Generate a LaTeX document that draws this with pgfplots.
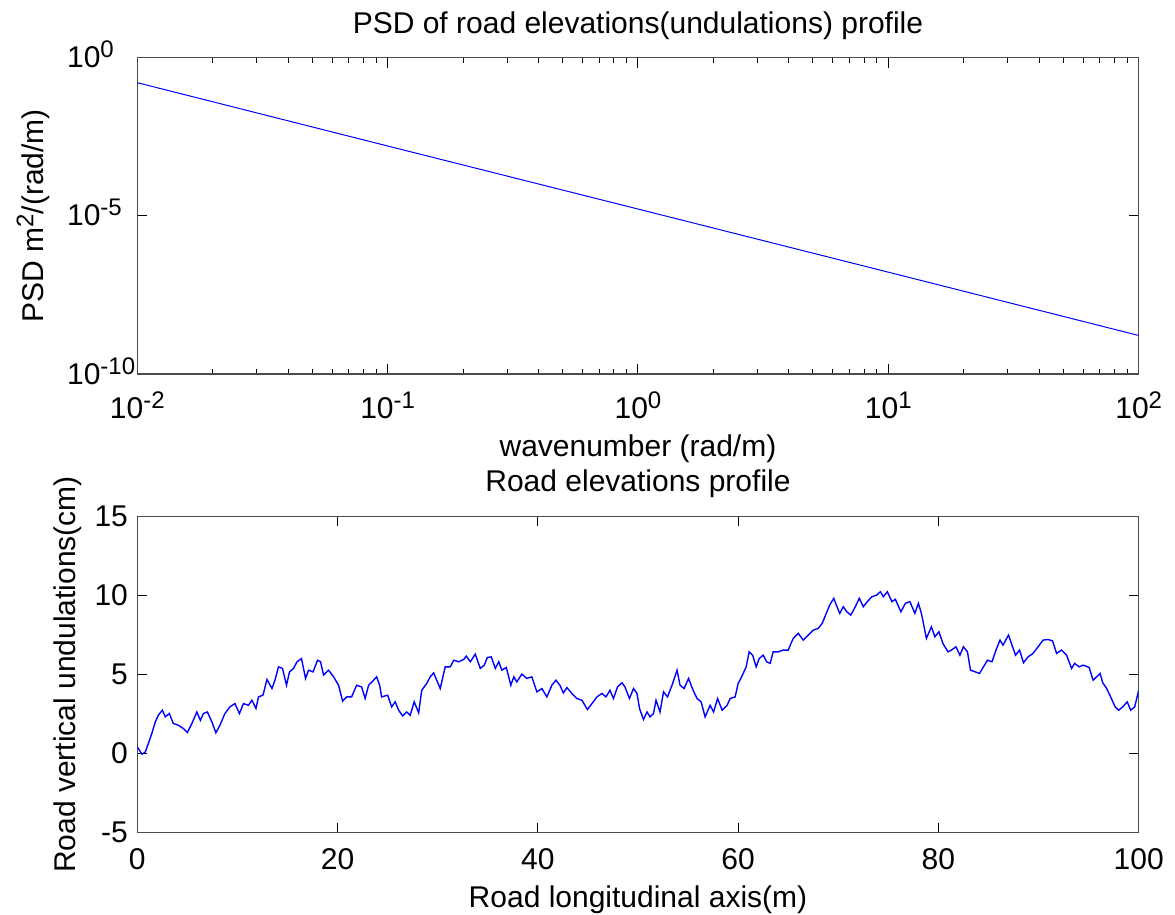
\documentclass[border=0pt]{standalone}
\usepackage{fontspec}
\setmainfont{Liberation Sans}
\usepackage{pgfplots}
\pgfplotsset{compat=1.18}
\newcommand{\tp}[1]{10\raisebox{5pt}{\fontsize{12}{12}\selectfont #1}}
\definecolor{axgray}{gray}{0.3}
\begin{document}
\fontsize{15}{18}\selectfont
\begin{tikzpicture}
\useasboundingbox (-68.65pt,-270.5pt) rectangle (518.85pt,187pt);
\pgfplotsset{
  every axis title shift=0pt,
  every axis/.append style={
    scale only axis, width=500.7pt, height=158.25pt,
    axis line style={axgray, line width=0.6pt},
    every tick/.style={black, line width=0.5pt},
    major tick length=5pt, minor tick length=2.5pt,
    tick align=inside, tick pos=both,
    font=\fontsize{15}{18}\selectfont,
  },
}
% Top: PSD
\begin{axis}[
  at={(0pt,0pt)}, anchor=south west,
  xmode=log, ymode=log,
  xmin=1e-2, xmax=1e2, ymin=1e-10, ymax=1,
  xtick={1e-2,1e-1,1,1e1,1e2},
  xticklabels={\tp{-2},\tp{-1},\tp{0},\tp{1},\tp{2}},
  ytick={1e-10,1e-5,1},
  yticklabels={\tp{-10},\tp{-5},\tp{0}},
  minor ytick={},
  xticklabel style={anchor=base, inner sep=0pt, yshift=-22.15pt},
  yticklabel style={anchor=base west, inner sep=0pt, xshift=-35.3pt, yshift=-5pt},
  title={PSD of road elevations(undulations) profile},
  title style={at={(axis description cs:0.5,1.0765)}, anchor=base, inner sep=0pt},
  xlabel={wavenumber (rad/m)},
  xlabel style={at={(axis description cs:0.5,-0.2613)}, anchor=base, inner sep=0pt},
  ylabel={PSD m\raisebox{5pt}{\fontsize{12}{12}\selectfont 2}/(rad/m)},
  ylabel style={at={(axis description cs:-0.0939,0.5)}, anchor=base, rotate=0, inner sep=0pt},
]
\addplot[blue, line width=0.5pt] coordinates {
(0.01,0.16) (0.1,1.6e-3) (1,1.63e-5) (10,1.65e-7) (100,1.65e-9)
};
\end{axis}
% Bottom: road profile
\begin{axis}[
  at={(0pt,-229.35pt)}, anchor=south west,
  xmin=0, xmax=100, ymin=-5, ymax=15,
  xtick={0,20,40,60,80,100},
  xticklabels={0,20,40,60,80,100},
  ytick={-5,0,5,10,15},
  yticklabels={-5,0,5,10,15},
  xticklabel style={anchor=base, inner sep=0pt, yshift=-18.3pt},
  yticklabel style={anchor=east, inner sep=0pt, xshift=-4.5pt},
  title={Road elevations profile},
  title style={at={(axis description cs:0.5,1.0774)}, anchor=base, inner sep=0pt},
  xlabel={Road longitudinal axis(m)},
  xlabel style={at={(axis description cs:0.5,-0.2357)}, anchor=base, inner sep=0pt},
  ylabel={Road vertical undulations(cm)},
  ylabel style={at={(axis description cs:-0.0622,0.5)}, anchor=base, rotate=0, inner sep=0pt},
]
\addplot[blue, line width=0.7pt] coordinates {
(0,0.42) (0.47,-0.04) (0.8,0.1) (1.1,0.63) (1.45,1.27) (1.8,2.0) (2.1,2.42) (2.5,2.74) (2.8,2.32) (3.2,2.53)
(3.6,1.9) (4.1,1.79) (4.6,1.58) (5.0,1.33) (5.45,1.9) (5.95,2.63) (6.3,2.1) (6.6,2.53) (7.0,2.63) (7.45,2.0)
(7.85,1.31) (8.25,1.79) (8.75,2.53) (9.25,2.95) (9.75,3.16) (10.2,2.53) (10.6,3.16) (11.1,3.05) (11.45,3.37) (11.85,2.85)
(12.1,3.58) (12.55,3.69) (12.95,4.68) (13.45,4.11) (13.75,4.64) (14.1,5.48) (14.5,5.38) (14.9,4.32) (15.2,5.16) (15.6,5.38)
(15.95,5.8) (16.4,6.0) (16.8,4.75) (17.1,5.27) (17.55,5.16) (18.0,5.9) (18.3,5.8) (18.6,4.96) (19.1,5.27) (19.6,4.85)
(20.1,4.32) (20.5,3.31) (20.9,3.58) (21.4,3.58) (21.9,4.32) (22.4,4.21) (22.75,3.48) (23.1,4.32) (23.6,4.64) (23.9,4.85)
(24.2,4.32) (24.4,3.58) (25.0,3.69) (25.4,2.95) (25.75,3.27) (26.1,2.74) (26.5,2.38) (26.9,2.63) (27.25,2.42) (27.65,3.27)
(28.1,2.57) (28.4,4.0) (28.9,4.43) (29.25,4.85) (29.6,5.1) (29.9,4.64) (30.25,4.11) (30.75,5.48) (31.25,5.48) (31.6,5.9)
(32.1,5.8) (32.6,5.95) (32.85,6.16) (33.25,5.8) (33.75,6.28) (34.25,5.38) (34.65,5.59) (34.95,6.07) (35.35,6.11) (35.75,5.38)
(36.1,5.8) (36.4,5.27) (36.85,5.44) (37.3,4.32) (37.6,4.85) (37.9,4.53) (38.4,5.02) (38.9,4.75) (39.4,4.85) (39.9,3.9)
(40.4,4.11) (40.9,3.58) (41.4,4.32) (41.8,4.64) (42.2,4.32) (42.55,3.83) (42.9,4.17) (43.4,3.8) (43.9,3.48) (44.4,3.37)
(44.95,2.78) (45.4,3.16) (45.9,3.58) (46.4,3.8) (46.8,3.58) (47.2,4.0) (47.55,3.48) (47.95,4.21) (48.4,4.47) (48.7,4.21)
(49.15,3.48) (49.55,4.11) (49.9,3.8) (50.15,2.85) (50.55,2.15) (50.9,2.63) (51.2,2.32) (51.55,2.53) (51.8,3.37) (52.2,2.63)
(52.55,3.9) (52.95,3.58) (53.4,4.32) (53.9,5.27) (54.2,4.32) (54.6,4.11) (55.05,4.75) (55.5,4.0) (55.9,3.48) (56.3,3.27)
(56.7,2.32) (57.2,3.05) (57.55,2.63) (57.95,3.48) (58.4,2.74) (58.9,3.05) (59.2,3.48) (59.7,3.58) (60.0,4.43) (60.35,4.85)
(60.8,5.48) (61.1,6.43) (61.45,6.22) (61.8,5.48) (62.1,6.0) (62.5,6.22) (62.85,5.8) (63.2,5.7) (63.5,6.43) (64.0,6.43)
(64.5,6.54) (65.0,6.54) (65.5,7.28) (66.0,7.6) (66.5,7.17) (67.0,7.49) (67.5,7.8) (68.0,7.91) (68.4,8.23) (68.8,8.86)
(69.15,9.39) (69.55,9.81) (69.8,9.39) (70.15,8.86) (70.5,9.28) (70.85,8.96) (71.25,8.75) (71.7,9.28) (72.1,9.81) (72.5,9.28)
(72.9,9.6) (73.35,9.91) (73.85,10.02) (74.2,10.23) (74.5,9.91) (74.9,10.23) (75.35,9.6) (75.7,9.75) (76.25,8.96) (76.7,9.49)
(77.15,9.6) (77.65,8.86) (78.0,9.49) (78.3,8.86) (78.8,7.28) (79.3,8.01) (79.65,7.38) (80.05,7.7) (80.45,6.96) (80.95,6.43)
(81.3,6.54) (81.75,6.75) (82.15,6.22) (82.5,6.75) (82.9,6.43) (83.2,5.27) (83.7,5.16) (84.1,5.06) (84.5,5.48) (84.9,5.9)
(85.35,5.8) (85.75,6.54) (86.15,7.17) (86.45,6.85) (87.0,7.49) (87.35,6.85) (87.7,6.22) (88.1,6.54) (88.5,5.74) (88.95,6.11)
(89.45,6.33) (89.95,6.75) (90.45,7.17) (90.95,7.21) (91.4,7.12) (91.8,6.33) (92.3,6.54) (92.8,6.22) (93.3,5.38) (93.6,5.7)
(94.05,5.48) (94.45,5.59) (95.05,5.44) (95.45,4.64) (95.8,4.85) (96.15,5.06) (96.4,4.49) (96.8,4.11) (97.2,3.58) (97.65,2.95)
(98.0,2.74) (98.4,2.95) (98.85,3.27) (99.2,2.74) (99.6,2.95) (100,4.0)
};
\end{axis}
\end{tikzpicture}
\end{document}
